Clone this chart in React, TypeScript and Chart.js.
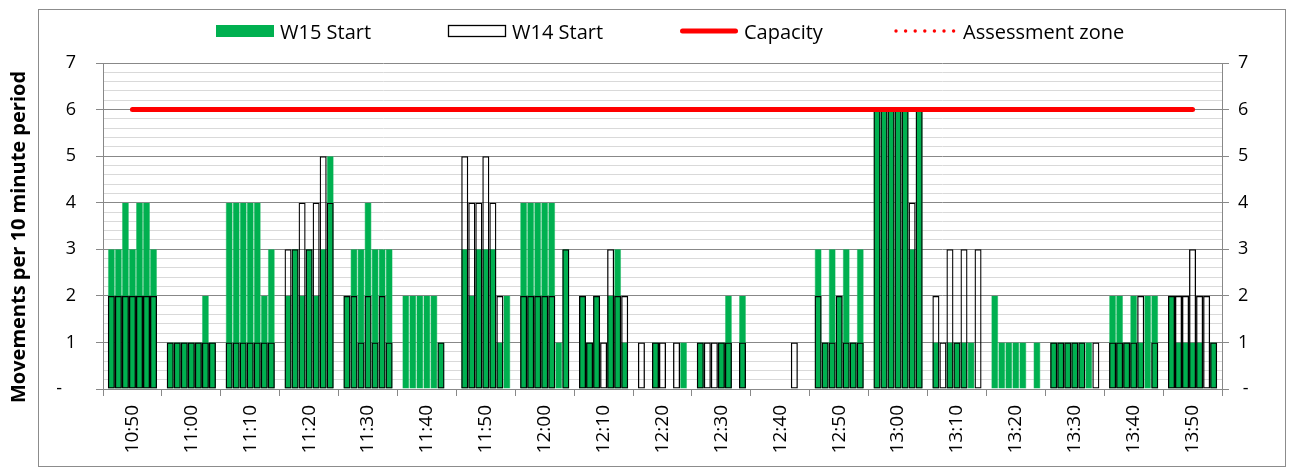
import React, { useEffect, useRef } from 'react';
import { Chart, registerables } from 'chart.js';

Chart.register(...registerables);

// ---------- data ----------
const categories = [
  '10:50', '11:00', '11:10', '11:20', '11:30', '11:40', '11:50', '12:00', '12:10', '12:20',
  '12:30', '12:40', '12:50', '13:00', '13:10', '13:20', '13:30', '13:40', '13:50',
];

// W15 Start: one row per 10-minute period, seven sub-bars per period
const w15Start = [
  [3, 3, 4, 3, 4, 4, 3],
  [1, 1, 1, 1, 1, 2, 1],
  [4, 4, 4, 4, 4, 2, 3],
  [2, 3, 2, 3, 2, 3, 5],
  [2, 3, 3, 4, 3, 3, 3],
  [2, 2, 2, 2, 2, 1, 0],
  [3, 2, 3, 3, 3, 1, 2],
  [4, 4, 4, 4, 4, 1, 3],
  [2, 1, 2, 0, 2, 3, 1],
  [0, 0, 1, 0, 0, 0, 1],
  [1, 0, 0, 1, 2, 0, 2],
  [0, 0, 0, 0, 0, 0, 0],
  [3, 1, 3, 2, 3, 1, 3],
  [6, 6, 6, 6, 6, 3, 6],
  [1, 0, 1, 1, 1, 1, 0],
  [2, 1, 1, 1, 1, 0, 1],
  [1, 1, 1, 1, 1, 1, 0],
  [2, 2, 1, 2, 1, 2, 2],
  [2, 1, 1, 1, 1, 0, 1],
];

// W14 Start: same layout
const w14Start = [
  [2, 2, 2, 2, 2, 2, 2],
  [1, 1, 1, 1, 1, 1, 1],
  [1, 1, 1, 1, 1, 1, 1],
  [3, 3, 4, 3, 4, 5, 4],
  [2, 2, 1, 2, 1, 2, 1],
  [0, 0, 0, 0, 0, 1, 0],
  [5, 4, 4, 5, 4, 2, 0],
  [2, 2, 2, 2, 2, 0, 3],
  [2, 1, 2, 1, 3, 2, 2],
  [1, 0, 1, 1, 0, 1, 0],
  [1, 1, 1, 1, 1, 0, 1],
  [0, 0, 0, 0, 0, 1, 0],
  [2, 1, 1, 2, 1, 1, 1],
  [6, 6, 6, 6, 6, 4, 6],
  [2, 1, 3, 1, 3, 0, 3],
  [0, 0, 0, 0, 0, 0, 0],
  [1, 1, 1, 1, 1, 0, 1],
  [1, 1, 1, 1, 2, 0, 1],
  [2, 2, 2, 3, 2, 2, 1],
];

const capacity = [6, 6, 6, 6, 6, 6, 6, 6, 6, 6, 6, 6, 6, 6, 6, 6, 6, 6, 6];
const assessmentZone: (number | null)[] = categories.map(() => null);

const yTickLabels = ['-', '1', '2', '3', '4', '5', '6', '7'];
const yTitle = 'Movements per 10 minute period';
const legendLabels = ['W15 Start', 'W14 Start', 'Capacity', 'Assessment zone'];

// ---------- styles ----------
const FONT = "'Open Sans', 'DejaVu Sans', sans-serif";
const GREEN = '#00B050';
const RED = '#FF0000';
const MAJOR = '#888888';
const MINOR = '#D9D9D9';
const SUBBARS = 7;

const isInt = (v: number) => Math.abs(v - Math.round(v)) < 1e-6;
const tickText = (v: number, left: boolean) => {
  if (!isInt(v)) return '';
  const i = Math.round(v);
  if (i === 0) return left ? yTickLabels[0] + '   ' : ' ' + yTickLabels[0];
  return yTickLabels[i];
};

const decorPlugin = {
  id: 'decor',
  afterDraw(chart: any) {
    const ctx = chart.ctx as CanvasRenderingContext2D;
    ctx.save();
    // outer chart frame
    ctx.strokeStyle = '#8C8C8C';
    ctx.lineWidth = 1;
    ctx.strokeRect(38.5, 9.5, 1247, 457);

    // y-axis title (outside frame, rotated)
    ctx.save();
    ctx.translate(19, 237);
    ctx.rotate(-Math.PI / 2);
    ctx.font = `bold 20px ${FONT}`;
    ctx.fillStyle = '#000';
    ctx.textAlign = 'center';
    ctx.textBaseline = 'middle';
    ctx.fillText(yTitle, 0, 0);
    ctx.restore();

    // legend
    const starts = [216, 448, 680, 894];
    const widths = [58, 58, 58, 63];
    const cy = 31;
    ctx.font = `20px ${FONT}`;
    ctx.textBaseline = 'alphabetic';
    ctx.textAlign = 'left';
    legendLabels.forEach((label, i) => {
      const x = starts[i];
      const w = widths[i];
      if (i === 0) {
        ctx.fillStyle = GREEN;
        ctx.fillRect(x, cy - 6, w, 12);
      } else if (i === 1) {
        ctx.fillStyle = '#fff';
        ctx.fillRect(x, cy - 6, w, 12);
        ctx.strokeStyle = '#000';
        ctx.lineWidth = 1.3;
        ctx.strokeRect(x + 0.5, cy - 5.5, w - 1, 11);
      } else if (i === 2) {
        ctx.strokeStyle = RED;
        ctx.lineWidth = 5;
        ctx.lineCap = 'round';
        ctx.beginPath();
        ctx.moveTo(x + 2.5, cy);
        ctx.lineTo(x + w - 2.5, cy);
        ctx.stroke();
      } else {
        ctx.fillStyle = RED;
        for (let k = 0; k < 7; k++) {
          ctx.beginPath();
          ctx.arc(x + 2 + k * 9.6, cy, 1.7, 0, Math.PI * 2);
          ctx.fill();
        }
      }
      ctx.fillStyle = '#000';
      ctx.fillText(label, x + w + 6, 38.5);
    });
    ctx.restore();
  },
};

export default function App() {
  const canvasRef = useRef<HTMLCanvasElement | null>(null);

  useEffect(() => {
    if (!canvasRef.current) return;
    const datasets: any[] = [];
    datasets.push({
      type: 'line',
      label: legendLabels[2],
      data: capacity,
      borderColor: RED,
      borderWidth: 5,
      borderCapStyle: 'round',
      pointRadius: 0,
      order: 0,
      yAxisID: 'y',
    });
    datasets.push({
      type: 'line',
      label: legendLabels[3],
      data: assessmentZone,
      borderColor: RED,
      borderWidth: 3,
      borderDash: [2, 6],
      pointRadius: 0,
      order: 0,
      yAxisID: 'y',
    });
    for (let j = 0; j < SUBBARS; j++) {
      datasets.push({
        type: 'bar',
        label: legendLabels[1],
        data: w14Start.map((r) => (r[j] ? r[j] : null)),
        stack: 's' + j,
        backgroundColor: 'rgba(0,0,0,0)',
        borderColor: '#000',
        borderWidth: 1.3,
        borderSkipped: false,
        barPercentage: 1,
        categoryPercentage: 0.835,
        order: 1,
        yAxisID: 'y',
      });
    }
    for (let j = 0; j < SUBBARS; j++) {
      datasets.push({
        type: 'bar',
        label: legendLabels[0],
        data: w15Start.map((r) => (r[j] ? r[j] : null)),
        stack: 's' + j,
        backgroundColor: GREEN,
        borderColor: '#45C47C',
        borderWidth: { left: 0.6, right: 0.6, top: 0, bottom: 0 },
        borderSkipped: false,
        barPercentage: 1,
        categoryPercentage: 0.835,
        order: 2,
        yAxisID: 'y',
      });
    }

    const yCommon = (left: boolean) => ({
      type: 'linear',
      position: left ? 'left' : 'right',
      min: 0,
      max: 7,
      stacked: false,
      afterFit: (s: any) => {
        s.width = left ? 103 : 68;
      },
      ticks: {
        stepSize: 0.2,
        autoSkip: false,
        padding: left ? 20 : 9,
        color: '#000',
        font: { family: FONT, size: 18 },
        callback: (v: any) => tickText(Number(v), left),
      },
      grid: {
        drawOnChartArea: left,
        color: (c: any) => (c.tick && isInt(c.tick.value) ? MAJOR : MINOR),
        tickColor: (c: any) => (c.tick && isInt(c.tick.value) ? MAJOR : 'rgba(0,0,0,0)'),
        tickLength: 7,
        lineWidth: 1,
      },
      border: { color: MAJOR, width: 1 },
    });

    const chart = new Chart(canvasRef.current, {
      data: { labels: categories, datasets },
      options: {
        animation: false,
        responsive: true,
        maintainAspectRatio: false,
        devicePixelRatio: 1,
        layout: { padding: { top: 63, left: 0, right: 0, bottom: 0 } },
        plugins: { legend: { display: false }, tooltip: { enabled: false } },
        scales: {
          x: {
            type: 'category',
            offset: true,
            afterFit: (s: any) => {
              s.height = 80;
            },
            grid: {
              offset: true,
              drawOnChartArea: false,
              color: MAJOR,
              tickLength: 7,
            },
            border: { color: MAJOR, width: 1 },
            ticks: {
              autoSkip: false,
              minRotation: 90,
              maxRotation: 90,
              padding: 9,
              color: '#000',
              font: { family: FONT, size: 19 },
            },
          },
          y: yCommon(true),
          y2: yCommon(false),
        } as any,
      },
      plugins: [decorPlugin],
    } as any);
    return () => chart.destroy();
  }, []);

  return (
    <div style={{ position: 'absolute', left: 0, top: 0, width: 1290, height: 469, background: '#fff' }}>
      <canvas ref={canvasRef} />
    </div>
  );
}
